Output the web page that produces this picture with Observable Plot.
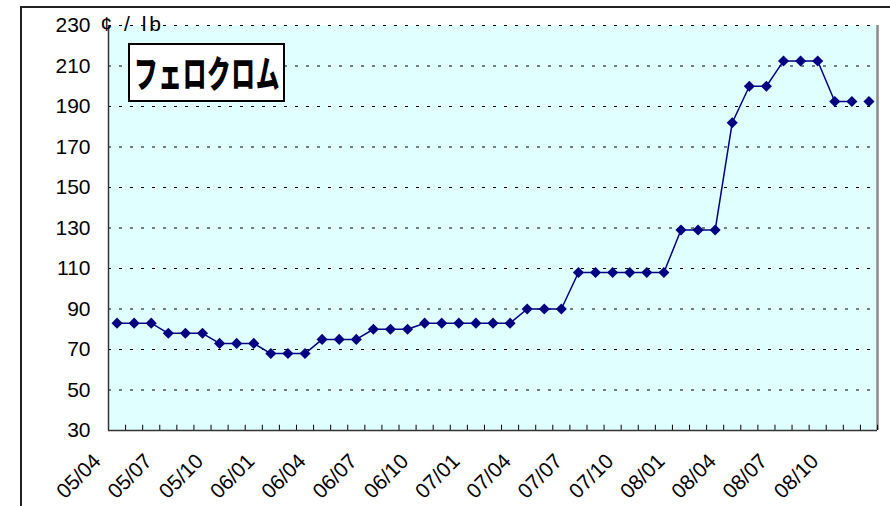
<!DOCTYPE html>
<html>
<head>
<meta charset="utf-8">
<script src="https://cdn.jsdelivr.net/npm/d3@7"></script>
<script src="https://cdn.jsdelivr.net/npm/@observablehq/plot@0.6"></script>
<style>
  body { margin: 0; background: #fff; }
  #wrap { position: relative; width: 890px; height: 506px; overflow: hidden; font-family: "Liberation Sans", Arial, sans-serif; }
  #outer { position: absolute; left: 20px; top: 6px; width: 900px; height: 520px; border-left: 2px solid #222; border-top: 2px solid #222; box-sizing: border-box; pointer-events: none; }
  #title { position: absolute; left: 128px; top: 43px; width: 157px; height: 59px; box-sizing: border-box; border: 2px solid #000; background: #fff; display: flex; align-items: center; justify-content: center; overflow: hidden; }
  #title span { display: inline-block; font-family: "Noto Sans CJK JP", sans-serif; font-weight: 900; font-size: 37px; line-height: 1; transform: scaleX(0.64); white-space: nowrap; letter-spacing: 1px; }
</style>
</head>
<body>
<div id="wrap">
  <div id="chart"></div>
  <div id="outer"></div>
  <div id="title"><span>フェロクロム</span></div>
</div>
<script>
// Months (category labels), 2005/04 .. 2008/12
const months = ["05/04","05/05","05/06","05/07","05/08","05/09","05/10","05/11","05/12",
  "06/01","06/02","06/03","06/04","06/05","06/06","06/07","06/08","06/09","06/10","06/11","06/12",
  "07/01","07/02","07/03","07/04","07/05","07/06","07/07","07/08","07/09","07/10","07/11","07/12",
  "08/01","08/02","08/03","08/04","08/05","08/06","08/07","08/08","08/09","08/10","08/11","08/12"];
// Ferrochrome price, ¢/lb
const prices = [83,83,83,78,78,78,73,73,73,68,68,68,75,75,75,80,80,80,83,83,83,83,83,83,
  90,90,90,108,108,108,108,108,108,129,129,129,182,200,200,212.5,212.5,212.5,192.5,192.5,192.5];
// Tick labels shown on the x axis (every 3rd month)
const xTickLabels = ["05/04","05/07","05/10","06/01","06/04","06/07","06/10","07/01","07/04","07/07","07/10","08/01","08/04","08/07","08/10"];
const yTicks = [30,50,70,90,110,130,150,170,190,210,230];
const unitLabel = "¢\u00a0/\u00a0lb";

const data = months.map((m, i) => ({i, month: m, price: prices[i]}));
const lineData = data.slice(0, data.length - 1); // last point is not joined in the original
const labelData = data.filter(d => xTickLabels.includes(d.month));
const edges = d3.range(0, months.length).map(i => i + 0.5);
const n = months.length;

const chart = Plot.plot({
  width: 890,
  height: 506,
  marginLeft: 108,
  marginRight: 13,
  marginTop: 25,
  marginBottom: 76,
  style: {background: "transparent", fontFamily: "'Liberation Sans', Arial, sans-serif"},
  x: {type: "linear", domain: [-0.5, n - 0.5], axis: null},
  y: {domain: [30, 230], axis: null},
  marks: [
    Plot.frame({fill: "#E0FFFF", stroke: null}),
    Plot.ruleY(yTicks.filter(t => t > 30), {stroke: "#000", strokeWidth: 1, strokeDasharray: "3,8"}),
    Plot.ruleX([n - 0.5], {stroke: "#8a8a8a", strokeWidth: 2.5}),
    Plot.ruleX(edges, {y1: 30, y2: 32.6, stroke: "#000", strokeWidth: 1}),
    Plot.ruleX([-0.5], {stroke: "#333", strokeWidth: 1.5}),
    Plot.ruleY([30], {stroke: "#333", strokeWidth: 1.5}),
    Plot.line(lineData, {x: "i", y: "price", stroke: "#000080", strokeWidth: 1.5}),
    Plot.dot(data, {x: "i", y: "price", symbol: "diamond2", r: 5, fill: "#000080", stroke: null}),
    Plot.text(yTicks, {y: d => d, frameAnchor: "left", dx: -18, textAnchor: "end", text: d => String(d), fontSize: 21, fill: "#000"}),
    Plot.text(labelData, {x: "i", frameAnchor: "bottom", text: "month", rotate: -45, textAnchor: "end", dx: -15, dy: 32, fontSize: 21, fill: "#000"}),
    Plot.text([unitLabel], {frameAnchor: "top-left", text: d => d, textAnchor: "start", lineAnchor: "middle", dx: -8, dy: -1, fontSize: 21, fill: "#000"})
  ]
});
d3.select(chart).selectAll("text").filter(function() { return this.textContent.includes("lb"); })
  .style("letter-spacing", "3px");
document.getElementById("chart").appendChild(chart);
</script>
</body>
</html>
